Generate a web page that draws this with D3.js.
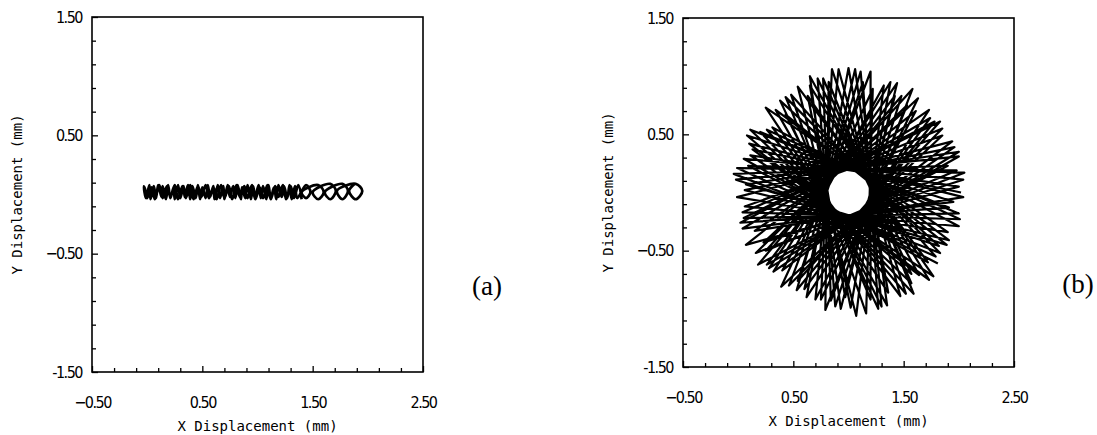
<!DOCTYPE html>
<html>
<head>
<meta charset="utf-8">
<script src="https://cdn.jsdelivr.net/npm/d3@7"></script>
<style>
  body { margin: 0; background: #fff; }
  .tick-label { font-family: "DejaVu Sans Condensed", "Liberation Sans Narrow", sans-serif; font-size: 16px; letter-spacing: -1.5px; }
  .axis-title { font-family: "DejaVu Sans Mono", monospace; font-size: 14px; }
  .panel-tag { font-family: "Liberation Serif", "DejaVu Serif", serif; font-size: 27px; }
</style>
</head>
<body>
<div id="chart"></div>
<script>
// tick values and labels (same for both panels)
var xTickVals = [-0.5, 0.5, 1.5, 2.5],
    xTickText = ["\u22120.50", "0.50", "1.50", "2.50"],
    yTickVals = [1.5, 0.5, -0.5, -1.5],
    yTickText = ["1.50", "0.50", "\u22120.50", "-1.50"],
    xMinor = [-0.3, -0.1, 0.1, 0.3, 0.7, 0.9, 1.1, 1.3, 1.7, 1.9, 2.1, 2.3],
    yMinor = [-1.3, -1.1, -0.9, -0.7, -0.3, -0.1, 0.1, 0.3, 0.7, 0.9, 1.1, 1.3];

// (a) orbit squeezed onto the x axis: back pass, forward pass, then the loose loops
var aX = [1.40,1.37,1.33,1.30,1.26,1.23,1.19,1.16,1.12,1.09,1.05,1.02,0.98,0.95,0.91,0.88,0.84,0.81,0.77,0.74,
          0.70,0.67,0.63,0.60,0.56,0.53,0.49,0.46,0.42,0.39,0.35,0.32,0.28,0.25,0.21,0.18,0.14,0.11,0.07,0.04,
          0.00,-0.02,
          -0.03,-0.01,0.02,0.03,0.06,0.08,0.10,0.13,0.14,0.17,0.19,0.21,0.24,0.25,0.28,0.30,0.33,0.34,0.37,0.39,
          0.41,0.44,0.46,0.48,0.50,0.53,0.55,0.57,0.60,0.61,0.64,0.66,0.69,0.70,0.73,0.75,0.78,0.80,0.82,0.85,
          0.86,0.89,0.91,0.94,0.96,0.98,1.01,1.03,1.05,1.08,1.10,1.12,1.15,1.17,1.19,1.22,1.24,1.27,1.29,1.31,
          1.34,1.36,
          1.44,1.48,1.44,1.40, 1.55,1.60,1.55,1.50, 1.66,1.71,1.66,1.61, 1.77,1.82,1.77,1.72, 1.89,1.95,1.89,1.83,1.88];
var aY = [-0.04,0.08,-0.03,0.07,-0.04,0.08,-0.02,0.07,-0.04,0.08,-0.03,0.06,-0.04,0.08,-0.03,0.07,-0.02,0.08,-0.04,0.07,
          -0.03,0.08,-0.04,0.06,-0.03,0.08,-0.02,0.07,-0.04,0.08,-0.03,0.07,-0.04,0.08,-0.02,0.07,-0.03,0.08,-0.04,0.06,
          -0.03,0.05,
          0.07,-0.03,0.08,-0.04,0.07,-0.03,0.08,-0.02,0.07,-0.04,0.08,-0.03,0.06,-0.04,0.08,-0.03,0.07,-0.02,0.08,-0.04,
          0.07,-0.03,0.08,-0.04,0.06,-0.03,0.08,-0.02,0.07,-0.04,0.08,-0.03,0.07,-0.04,0.08,-0.02,0.07,-0.03,0.08,-0.04,
          0.06,-0.03,0.08,-0.04,0.07,-0.02,0.08,-0.03,0.07,-0.04,0.08,-0.03,0.06,-0.04,0.08,-0.02,0.07,-0.03,0.08,-0.04,
          0.07,-0.03,
          0.08,0.02,-0.03,0.02, 0.08,0.02,-0.04,0.02, 0.09,0.03,-0.04,0.02, 0.09,0.03,-0.04,0.03, 0.09,0.03,-0.04,0.03,0.09];

// (b) star shaped orbit, tip points in order
var bX = [2.02,0.13,1.73,0.65,0.97,1.44,0.28,2.00,0.07,1.89,0.43,1.30,1.11,0.53,1.78,0.02,1.91,0.11,1.57,0.77,
          0.84,1.58,0.25,1.98,-0.01,1.79,0.48,1.16,1.22,0.39,1.85,0.06,2.00,0.31,1.47,0.91,0.70,1.61,0.07,2.00,
          0.11,1.77,0.63,1.02,1.38,0.32,1.96,0.06,1.91,0.34,1.35,1.06,0.60,1.74,0.04,1.95,0.08,1.57,0.72,0.88,
          1.48,0.18,1.90,-0.04,1.83,0.43,1.20,1.20,0.46,1.85,
          0.04,2.01,0.26,1.52,0.85,0.75,1.63,0.23,2.04,0.05,1.72,0.54,1.07,1.32,0.40,1.94,-0.01,1.90,0.25,1.36,
          1.00,0.62,1.73,0.15,2.04,0.10,1.64,0.65,0.93,1.42,0.26,2.00,-0.02,1.82,0.38,1.27,1.13,0.54,1.83,0.05,
          2.00,0.20,1.59,0.82,0.79,1.53,0.16,2.05,0.09,1.81];
var bY = [0.00,0.37,-0.75,0.92,-0.90,0.94,-0.65,0.35,0.07,-0.45,0.67,-0.98,1.04,-0.84,0.61,-0.26,-0.13,0.54,-0.78,0.98,
          -0.93,0.89,-0.50,0.19,0.21,-0.55,0.84,-1.04,0.89,-0.81,0.49,-0.12,-0.29,0.56,-0.89,1.06,-0.92,0.70,-0.45,0.05,
          0.32,-0.72,0.83,-0.99,0.95,-0.68,0.39,0.02,-0.41,0.71,-0.97,1.06,-0.83,0.64,-0.31,-0.08,0.49,-0.70,0.98,-0.98,
          0.83,-0.62,0.23,0.16,-0.52,0.82,-0.92,1.04,-0.80,0.55,
          -0.17,-0.23,0.54,-0.87,1.06,-0.92,0.81,-0.43,0.11,0.29,-0.60,0.91,-1.06,0.92,-0.67,0.44,-0.04,-0.34,0.73,-0.86,
          1.07,-0.90,0.71,-0.33,-0.04,0.42,-0.71,1.00,-1.00,0.83,-0.62,0.31,0.11,-0.46,0.79,-1.00,0.95,-0.76,0.61,-0.22,
          -0.18,0.52,-0.87,0.95,-1.01,0.75,-0.52,0.17,0.23,-0.61];

var width = 1097, height = 435;

var svg = d3.select("#chart").append("svg")
    .attr("width", width)
    .attr("height", height);

var panels = [
  {left: 92,  top: 17, right: 423,  bottom: 372, xs: aX, ys: aY, tag: "(a)", curve: d3.curveCatmullRom, sw: 2.7},
  {left: 683, top: 18, right: 1014, bottom: 367, xs: bX, ys: bY, tag: "(b)", curve: d3.curveLinear, sw: 2.2}
];

panels.forEach(function(p){
  var x = d3.scaleLinear().domain([-0.5, 2.5]).range([p.left, p.right]),
      y = d3.scaleLinear().domain([-1.5, 1.5]).range([p.bottom, p.top]);

  var g = svg.append("g");

  // the orbit
  var pts = p.xs.map(function(v, i){ return [v, p.ys[i]]; });
  g.append("path")
      .attr("d", d3.line().x(function(d){ return x(d[0]); }).y(function(d){ return y(d[1]); }).curve(p.curve)(pts))
      .attr("fill", "none")
      .attr("stroke", "#000")
      .attr("stroke-width", p.sw)
      .attr("stroke-linejoin", "round");

  // frame
  g.append("rect")
      .attr("x", p.left).attr("y", p.top)
      .attr("width", p.right - p.left).attr("height", p.bottom - p.top)
      .attr("fill", "none").attr("stroke", "#000").attr("stroke-width", 1.6);

  // bottom axis, ticks pointing in
  var xAxis = g.append("g").attr("transform", "translate(0," + p.bottom + ")")
      .call(d3.axisBottom(x).tickValues(xTickVals).tickSize(-6).tickPadding(33)
        .tickFormat(function(d, i){ return xTickText[i]; }));
  g.append("g").attr("transform", "translate(0," + p.bottom + ")")
      .call(d3.axisBottom(x).tickValues(xMinor).tickSize(-4).tickFormat(""));

  g.append("g").attr("transform", "translate(" + p.left + ",0)")
      .call(d3.axisLeft(y).tickValues(yTickVals).tickSize(-6).tickPadding(10)
        .tickFormat(function(d, i){ return yTickText[i]; }));
  g.append("g").attr("transform", "translate(" + p.left + ",0)")
      .call(d3.axisLeft(y).tickValues(yMinor).tickSize(-4).tickFormat(""));

  g.selectAll(".domain").remove();
  g.selectAll(".tick line").attr("stroke", "#000").attr("stroke-width", 1.3);
  g.selectAll(".tick text").attr("class", "tick-label").attr("fill", "#000");
  xAxis.selectAll(".tick text").attr("dy", "0.2em");

  g.append("text")
      .attr("class", "axis-title")
      .attr("x", (p.left + p.right) / 2)
      .attr("y", p.bottom + 59)
      .attr("text-anchor", "middle")
      .text("X Displacement (mm)");

  g.append("text")
      .attr("class", "axis-title")
      .attr("transform", "translate(" + (p.left - 70) + "," + ((p.top + p.bottom) / 2) + ") rotate(-90)")
      .attr("text-anchor", "middle")
      .text("Y Displacement (mm)");

  g.append("text")
      .attr("class", "panel-tag")
      .attr("x", p.right + 64)
      .attr("y", (p.top + p.bottom) / 2 + 100)
      .attr("text-anchor", "middle")
      .text(p.tag);
});
</script>
</body>
</html>
